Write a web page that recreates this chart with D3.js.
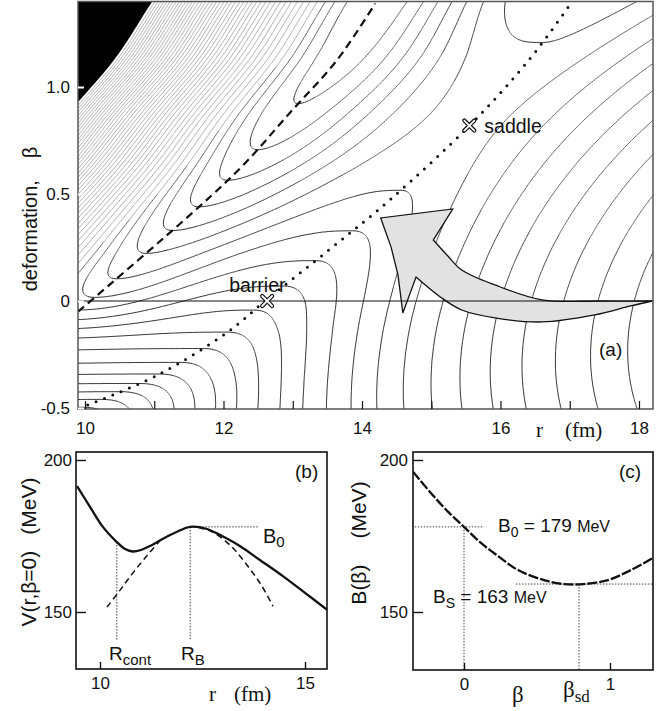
<!DOCTYPE html>
<html>
<head>
<meta charset="utf-8">
<title>Potential energy surface</title>
<script src="https://cdn.jsdelivr.net/npm/d3@7/dist/d3.min.js"></script>
<style>
  body { margin: 0; background: #fff; }
  text { font-family: "Liberation Sans", Arial, Helvetica, sans-serif; fill: #111; }
  .serif { font-family: "Liberation Serif", "Times New Roman", serif; }
</style>
</head>
<body>
<svg id="fig" width="662" height="711"></svg>
<script>
// ---------- values ----------

// (a) ridge of barrier tops (dotted line): r in fm, beta
const ridgeR    = [10.04, 11.05, 12.06, 12.60, 13.54, 14.40, 15.56, 16.41, 17.00];
const ridgeBeta = [-0.486, -0.346, -0.145, 0.0, 0.243, 0.472, 0.822, 1.126, 1.383];

// (a) contact valley (dashed line)
const valleyR    = [9.90, 11.63, 12.30, 12.96, 13.64, 14.19];
const valleyBeta = [-0.05, 0.435, 0.64, 0.88, 1.126, 1.39];

// (a) valley floor energy in MeV, estimated from the hairpin tips
const floorBeta = [-0.55, -0.2, 0.0, 0.25, 0.5, 0.75, 1.0, 1.25, 1.45];
const floorV    = [212, 187, 170, 160, 151, 144, 140, 138, 137];

// (a) contour levels in MeV
const levelMin = 129, levelMax = 313, levelStep = 4, blackLevel = 317;

// (a) marked points
const barrierPt = [12.63, 0.0];
const saddlePt  = [15.55, 0.82];

// (a) big arrow: upper edge (tail -> head), head, lower edge (head -> tail)
const arrowUpperR    = [18.19, 17.44, 16.60, 15.92, 15.44, 15.24, 15.03];
const arrowUpperBeta = [0.0, 0.0, 0.005, 0.075, 0.145, 0.21, 0.285];
const arrowHeadR     = [15.31, 14.27, 14.42, 14.52, 14.59, 14.78];
const arrowHeadBeta  = [0.43, 0.388, 0.252, 0.121, -0.056, 0.112];
const arrowLowerR    = [14.78, 15.13, 15.44, 15.92, 16.60, 17.36, 17.88, 18.19];
const arrowLowerBeta = [0.112, 0.019, -0.042, -0.079, -0.098, -0.065, -0.023, 0.0];

// (a) ticks
const aXTicks = [10, 11, 12, 13, 14, 15, 16, 17, 18];
const aXLabels = [10, 12, 14, 16, 18];
const aYTicks = [-0.5, 0, 0.5, 1.0];

// (b) V(r, beta=0)
const bR = [9.44, 9.76, 10.07, 10.41, 10.60, 10.80, 11.00, 11.25, 11.55, 11.88, 12.20, 12.61, 12.93, 13.41, 13.90, 14.46, 15.00, 15.54];
const bV = [191.4, 184.5, 178.0, 173.0, 170.8, 169.9, 170.4, 171.9, 174.2, 176.4, 178.0, 177.3, 175.3, 171.7, 167.1, 161.8, 156.3, 150.7];
const bLeftR  = [10.17, 10.49, 10.80, 11.15, 11.46];
const bLeftV  = [151.6, 157.2, 162.8, 168.6, 173.4];
const bRightR = [12.40, 12.70, 13.00, 13.30, 13.66, 13.95, 14.22];
const bRightV = [177.8, 176.6, 174.0, 170.2, 164.1, 158.5, 151.9];
const bRcont = 10.41, bRcontV = 173.0, bRB = 12.20, bB0 = 178.0, bB0End = 13.85, bDropTo = 140.8;
const bXTicks = [10, 15], bYTicks = [150, 200];

// (c) B(beta) along the ridge
const cBeta = [-0.349, -0.226, -0.110, 0, 0.116, 0.233, 0.370, 0.548, 0.685, 0.822, 0.986, 1.144, 1.295];
const cV    = [196.1, 189.1, 183.0, 178.0, 172.7, 168.4, 163.8, 160.5, 159.2, 159.2, 160.5, 163.8, 167.8];
const cB0 = 178.0, cB0End = 0.137, cBs = 159.2, cBsStart = 0.356, cBetaSd = 0.788, cDropTo = 131;
const cXTicks = [0, 1], cYTicks = [150, 200];

// ---------- potential surface for panel (a) ----------
const K = 2385, gam = 14.5, Cdef = 26, aN = 0.65;
const wallG0 = 25, wallG1 = 22, wallS = 0.7;   // wall slope (MeV/fm) left of the valley
const riseP = 3;                                 // shape of the rise from valley to ridge

function makeInterp(xs, ys) {
  const n = xs.length, d = [], m = [];
  for (let i = 0; i < n - 1; i++) d.push((ys[i + 1] - ys[i]) / (xs[i + 1] - xs[i]));
  m[0] = d[0]; m[n - 1] = d[n - 2];
  for (let i = 1; i < n - 1; i++) m[i] = d[i - 1] * d[i] <= 0 ? 0 : (d[i - 1] + d[i]) / 2;
  return x => {
    if (x <= xs[0]) return ys[0] + (x - xs[0]) * m[0];
    if (x >= xs[n - 1]) return ys[n - 1] + (x - xs[n - 1]) * m[n - 1];
    const i = d3.bisectRight(xs, x) - 1;
    const h = xs[i + 1] - xs[i], t = (x - xs[i]) / h, t2 = t * t, t3 = t2 * t;
    return (2 * t3 - 3 * t2 + 1) * ys[i] + (t3 - 2 * t2 + t) * h * m[i] +
           (-2 * t3 + 3 * t2) * ys[i + 1] + (t3 - t2) * h * m[i + 1];
  };
}
const ridgeAt = makeInterp(ridgeBeta, ridgeR);
const valleyAt = makeInterp(valleyBeta, valleyR);
const floorAt = makeInterp(floorBeta, floorV);

// wall rise, integrated once into a table
const wStep = 0.002, wN = 4000, wallTable = new Float64Array(wN + 1);
for (let i = 1; i <= wN; i++) {
  const x = (i - 0.5) * wStep;
  wallTable[i] = wallTable[i - 1] + (wallG0 + wallG1 * x) * Math.tanh(x / wallS) * wStep;
}
function wall(x) {
  const u = Math.min(x / wStep, wN - 1e-6), i = Math.floor(u);
  return wallTable[i] + (wallTable[i + 1] - wallTable[i]) * (u - i);
}
const rise = t => 1 - Math.pow(1 - t, riseP) * (1 + riseP * t);

const svg = d3.select("#fig");
const A = { left: 78, right: 653, top: 1.5, bottom: 409 };
const xa = d3.scaleLinear().domain([10, 18]).range([85, 639]);
const ya = d3.scaleLinear().domain([0, 1]).range([301, 87]);

const nx = 340, ny = 250;
const r0 = xa.invert(A.left) - 0.06, r1 = xa.invert(A.right) + 0.06;
const b1 = ya.invert(A.top) + 0.02, b0 = ya.invert(A.bottom) - 0.02;
const dr = (r1 - r0) / (nx - 1), db = (b1 - b0) / (ny - 1);
const field = new Float64Array(nx * ny);
for (let j = 0; j < ny; j++) {
  const b = b1 - j * db;
  const rr = ridgeAt(b), rv = valleyAt(b);
  const coul = x => K / x * (1 + gam * b / (x * x));
  const edef = 0.5 * Cdef * b * b;
  const amp = aN * K / (rr * rr) * (1 + 3 * gam * b / (rr * rr));
  const top = coul(rr) + edef - amp;
  const vv = Math.min(floorAt(b), top - 0.5);
  for (let i = 0; i < nx; i++) {
    const r = r0 + i * dr;
    let v;
    if (r >= rr) v = coul(r) + edef - amp * Math.exp(-(r - rr) / aN);
    else if (r >= rv) v = vv + (top - vv) * rise((r - rv) / (rr - rv));
    else v = vv + wall(rv - r);
    field[j * nx + i] = v;
  }
}

const gridX = x => xa(r0 + (x - 0.5) * dr);
const gridY = y => ya(b1 - (y - 0.5) * db);
const toScreen = d3.geoTransform({ point(x, y) { this.stream.point(gridX(x), gridY(y)); } });
const pathA = d3.geoPath(toScreen);

// thin strokes print lighter when diagonal and inside the dense wall
const inks = ["#222", "#3a3a3a", "#5e5e5e", "#9a9a9a"];
function splitInk(geom) {
  const out = ["", "", "", ""];
  geom.coordinates.forEach(poly => poly.forEach(ring => {
    const pts = ring.map(p => [gridX(p[0]), gridY(p[1])]);
    const n = pts.length;
    let prevK = -1;
    for (let i = 0; i < n - 1; i++) {
      const mx = (pts[i][0] + pts[i + 1][0]) / 2, my = (pts[i][1] + pts[i + 1][1]) / 2;
      const rb = ya.invert(my);
      let k;
      if (xa.invert(mx) < valleyAt(rb) - 0.8 && rb > 0.1) k = 3;
      else {
        const a = pts[Math.max(0, i - 2)], c = pts[Math.min(n - 1, i + 3)];
        const dx = c[0] - a[0], dy = c[1] - a[1], l2 = dx * dx + dy * dy || 1;
        const s = Math.abs(2 * dx * dy) / l2;
        k = s < 0.5 ? 0 : s < 0.85 ? 1 : 2;
      }
      if (k !== prevK) out[k] += `M${pts[i][0].toFixed(1)},${pts[i][1].toFixed(1)}`;
      out[k] += `L${pts[i + 1][0].toFixed(1)},${pts[i + 1][1].toFixed(1)}`;
      prevK = k;
    }
  }));
  return out;
}

const defs = svg.append("defs");
defs.append("clipPath").attr("id", "clipA").append("rect")
  .attr("x", A.left).attr("y", A.top).attr("width", A.right - A.left).attr("height", A.bottom - A.top);

const gA = svg.append("g").attr("clip-path", "url(#clipA)");
const levels = d3.range(levelMin, levelMax + 1, levelStep);
const iso = d3.contours().size([nx, ny]).thresholds(levels)(field);
iso.forEach(c => {
  splitInk(c).forEach((d, k) => {
    if (d) gA.append("path").attr("d", d).attr("fill", "none")
      .attr("stroke", inks[k]).attr("stroke-width", k === 3 ? 0.8 : 0.95).attr("stroke-linejoin", "round");
  });
});

const blackArea = d3.contours().size([nx, ny]).thresholds([blackLevel])(field);
gA.selectAll("path.black").data(blackArea).join("path")
  .attr("class", "black").attr("d", pathA).attr("fill", "#000");

// arrow
const lineA = d3.line().x(d => xa(d[0])).y(d => ya(d[1]));
const upper = lineA.curve(d3.curveCatmullRom)(d3.zip(arrowUpperR, arrowUpperBeta));
const head = d3.zip(arrowHeadR, arrowHeadBeta).map(d => `L${xa(d[0])},${ya(d[1])}`).join("");
const lower = lineA.curve(d3.curveCatmullRom)(d3.zip(arrowLowerR, arrowLowerBeta)).replace(/^M/, "L");
gA.append("path").attr("d", upper + head + lower + "Z")
  .attr("fill", "#e2e2e2").attr("stroke", "#111").attr("stroke-width", 1.3).attr("stroke-linejoin", "miter");

// beta = 0 line
gA.append("line").attr("x1", A.left).attr("x2", A.right).attr("y1", ya(0)).attr("y2", ya(0))
  .attr("stroke", "#111").attr("stroke-width", 1.1);

// valley (dashed) and ridge (dotted)
gA.append("path").attr("d", lineA.curve(d3.curveCatmullRom)(d3.zip(valleyR, valleyBeta)))
  .attr("fill", "none").attr("stroke", "#111").attr("stroke-width", 2.2).attr("stroke-dasharray", "8,5");
gA.append("path").attr("d", lineA.curve(d3.curveCatmullRom)(d3.zip(ridgeR, ridgeBeta)))
  .attr("fill", "none").attr("stroke", "#111").attr("stroke-width", 3).attr("stroke-linecap", "round")
  .attr("stroke-dasharray", "0,9");

// markers
function cross(g, px, py) {
  const s = 5;
  const d = `M${px - s},${py - s}L${px + s},${py + s}M${px - s},${py + s}L${px + s},${py - s}`;
  g.append("path").attr("d", d).attr("stroke", "#111").attr("stroke-width", 4.2).attr("stroke-linecap", "round");
  g.append("path").attr("d", d).attr("stroke", "#fff").attr("stroke-width", 1.8).attr("stroke-linecap", "round");
}
cross(svg, xa(barrierPt[0]), ya(barrierPt[1]));
cross(svg, xa(saddlePt[0]), ya(saddlePt[1]));
svg.append("text").attr("x", xa(barrierPt[0]) - 38).attr("y", ya(barrierPt[1]) - 9)
  .attr("font-size", 19.5).text("barrier");
svg.append("text").attr("x", xa(saddlePt[0]) + 15).attr("y", ya(saddlePt[1]) + 7)
  .attr("font-size", 19.5).text("saddle");
svg.append("text").attr("x", 599).attr("y", 356).attr("font-size", 19).text("(a)");

// frame (a)
svg.append("rect").attr("x", A.left).attr("y", A.top).attr("width", A.right - A.left).attr("height", A.bottom - A.top)
  .attr("fill", "none").attr("stroke", "#555").attr("stroke-width", 1.5);

// axes (a)
const sansTicks = (g, size) => g.selectAll(".tick text").attr("font-size", size).attr("fill", "#111")
  .style("font-family", '"Liberation Sans", Arial, sans-serif');
const axA = svg.append("g").attr("transform", `translate(0,${A.bottom})`)
  .call(d3.axisBottom(xa).tickValues(aXTicks).tickFormat(d => aXLabels.includes(d) ? d : "")
    .tickSize(-8).tickPadding(13));
axA.select(".domain").remove();
axA.selectAll(".tick line").attr("stroke", "#111").attr("stroke-width", 1.2);
sansTicks(axA, 17);

const ayA = svg.append("g").attr("transform", `translate(${A.left},0)`)
  .call(d3.axisLeft(ya).tickValues(aYTicks)
    .tickFormat(d => d === 0 ? "0" : (d < 0 ? "-" : "") + Math.abs(d).toFixed(1))
    .tickSize(-6).tickPadding(8));
ayA.select(".domain").remove();
ayA.selectAll(".tick line").attr("stroke", "#fff").attr("stroke-width", 2);
sansTicks(ayA, 17);

svg.append("text").attr("class", "serif").attr("x", 536).attr("y", 437).attr("font-size", 21).text("r");
svg.append("text").attr("class", "serif").attr("x", 565).attr("y", 437).attr("font-size", 21).text("(fm)");
const yl = svg.append("text").attr("transform", "translate(37,219) rotate(-90)")
  .attr("text-anchor", "middle").attr("font-size", 20);
yl.append("tspan").text("deformation,");
yl.append("tspan").attr("dx", 22).text("β");

// ---------- panel (b) ----------
const B = { left: 76, right: 327, top: 452, bottom: 669 };
const bx = d3.scaleLinear().domain([10, 15]).range([100, 305]);
const by = d3.scaleLinear().domain([150, 200]).range([612, 460]);
defs.append("clipPath").attr("id", "clipB").append("rect")
  .attr("x", B.left).attr("y", B.top).attr("width", B.right - B.left).attr("height", B.bottom - B.top);
const gB = svg.append("g").attr("clip-path", "url(#clipB)");
const lineB = d3.line().x(d => bx(d[0])).y(d => by(d[1])).curve(d3.curveCatmullRom);
const dotted = g => g.attr("fill", "none").attr("stroke", "#444").attr("stroke-width", 1).attr("stroke-dasharray", "1.5,1.5");

gB.append("path").attr("d", lineB([[bRcont, bRcontV], [bRcont, bDropTo]])).call(dotted);
gB.append("path").attr("d", lineB([[bRB, bB0], [bRB, bDropTo]])).call(dotted);
gB.append("path").attr("d", lineB([[bRB, bB0], [bB0End, bB0]])).call(dotted);
gB.append("path").attr("d", lineB(d3.zip(bLeftR, bLeftV)))
  .attr("fill", "none").attr("stroke", "#111").attr("stroke-width", 1.5).attr("stroke-dasharray", "6,4");
gB.append("path").attr("d", lineB(d3.zip(bRightR, bRightV)))
  .attr("fill", "none").attr("stroke", "#111").attr("stroke-width", 1.5).attr("stroke-dasharray", "6,4");
gB.append("path").attr("d", lineB(d3.zip(bR, bV)))
  .attr("fill", "none").attr("stroke", "#111").attr("stroke-width", 2.3);

svg.append("rect").attr("x", B.left).attr("y", B.top).attr("width", B.right - B.left).attr("height", B.bottom - B.top)
  .attr("fill", "none").attr("stroke", "#111").attr("stroke-width", 1.6);

function styleAxis(g) {
  g.select(".domain").remove();
  g.selectAll(".tick line").attr("stroke", "#111").attr("stroke-width", 1.4);
  sansTicks(g, 17);
}
svg.append("g").attr("transform", `translate(0,${B.bottom})`)
  .call(d3.axisBottom(bx).tickValues(bXTicks).tickFormat(d3.format("d")).tickSize(-7).tickPadding(8)).call(styleAxis);
svg.append("g").attr("transform", `translate(${B.left},0)`)
  .call(d3.axisLeft(by).tickValues(bYTicks).tickFormat(d3.format("d")).tickSize(-10).tickPadding(4)).call(styleAxis);

svg.append("text").attr("x", 295).attr("y", 478).attr("font-size", 19).text("(b)");
const b0t = svg.append("text").attr("x", 263).attr("y", 543).attr("font-size", 20);
b0t.append("tspan").text("B");
b0t.append("tspan").attr("font-size", 15).attr("dy", 4).text("0");
const rct = svg.append("text").attr("x", 109).attr("y", 660).attr("font-size", 19);
rct.append("tspan").text("R");
rct.append("tspan").attr("font-size", 15).attr("dy", 5).text("cont");
const rbt = svg.append("text").attr("x", 181).attr("y", 660).attr("font-size", 19);
rbt.append("tspan").text("R");
rbt.append("tspan").attr("font-size", 15).attr("dy", 5).text("B");
svg.append("text").attr("class", "serif").attr("x", 209).attr("y", 701).attr("font-size", 21).text("r");
svg.append("text").attr("class", "serif").attr("x", 234).attr("y", 701).attr("font-size", 21).text("(fm)");
const ybl = svg.append("text").attr("transform", "translate(36,552) rotate(-90)")
  .attr("text-anchor", "middle").attr("font-size", 21);
ybl.append("tspan").text("V(r,β=0)");
ybl.append("tspan").attr("dx", 16).text("(MeV)");

// ---------- panel (c) ----------
const C = { left: 413, right: 653, top: 452, bottom: 670 };
const cx = d3.scaleLinear().domain([0, 1]).range([464, 610]);
const cy = d3.scaleLinear().domain([150, 200]).range([612, 460]);
defs.append("clipPath").attr("id", "clipC").append("rect")
  .attr("x", C.left).attr("y", C.top).attr("width", C.right - C.left).attr("height", C.bottom - C.top);
const gC = svg.append("g").attr("clip-path", "url(#clipC)");
const lineC = d3.line().x(d => cx(d[0])).y(d => cy(d[1])).curve(d3.curveCatmullRom);
gC.append("path").attr("d", lineC([[cBeta[0] - 0.05, cB0], [cB0End, cB0]])).call(dotted);
gC.append("path").attr("d", lineC([[0, cB0], [0, cDropTo]])).call(dotted);
gC.append("path").attr("d", lineC([[cBsStart, cBs], [cBeta[cBeta.length - 1] + 0.05, cBs]])).call(dotted);
gC.append("path").attr("d", lineC([[cBetaSd, cBs], [cBetaSd, cDropTo]])).call(dotted);
gC.append("path").attr("d", lineC(d3.zip(cBeta, cV)))
  .attr("fill", "none").attr("stroke", "#111").attr("stroke-width", 2.3).attr("stroke-dasharray", "10,2");

svg.append("rect").attr("x", C.left).attr("y", C.top).attr("width", C.right - C.left).attr("height", C.bottom - C.top)
  .attr("fill", "none").attr("stroke", "#111").attr("stroke-width", 1.6);
svg.append("g").attr("transform", `translate(0,${C.bottom})`)
  .call(d3.axisBottom(cx).tickValues(cXTicks).tickFormat(d3.format("d")).tickSize(-7).tickPadding(8)).call(styleAxis);
svg.append("g").attr("transform", `translate(${C.left},0)`)
  .call(d3.axisLeft(cy).tickValues(cYTicks).tickFormat(d3.format("d")).tickSize(-10).tickPadding(5)).call(styleAxis);

svg.append("text").attr("x", 619).attr("y", 478).attr("font-size", 19).text("(c)");
const cb0 = svg.append("text").attr("x", 498).attr("y", 532).attr("font-size", 19);
cb0.append("tspan").text("B");
cb0.append("tspan").attr("font-size", 14).attr("dy", 5).text("0");
cb0.append("tspan").attr("dy", -5).text(" = 179 ");
cb0.append("tspan").attr("font-size", 16).text("MeV");
const cbs = svg.append("text").attr("x", 433).attr("y", 603).attr("font-size", 19);
cbs.append("tspan").text("B");
cbs.append("tspan").attr("font-size", 14).attr("dy", 5).text("S");
cbs.append("tspan").attr("dy", -5).text(" = 163 ");
cbs.append("tspan").attr("font-size", 16).text("MeV");
svg.append("text").attr("class", "serif").attr("x", 512).attr("y", 702).attr("font-size", 23).text("β");
const bsd = svg.append("text").attr("class", "serif").attr("x", 563).attr("y", 697).attr("font-size", 23);
bsd.append("tspan").text("β");
bsd.append("tspan").attr("font-size", 17).attr("dy", 5).text("sd");
const ycl = svg.append("text").attr("transform", "translate(366,543) rotate(-90)")
  .attr("text-anchor", "middle").attr("font-size", 21);
ycl.append("tspan").text("B(β)");
ycl.append("tspan").attr("dx", 26).text("(MeV)");
</script>
</body>
</html>
